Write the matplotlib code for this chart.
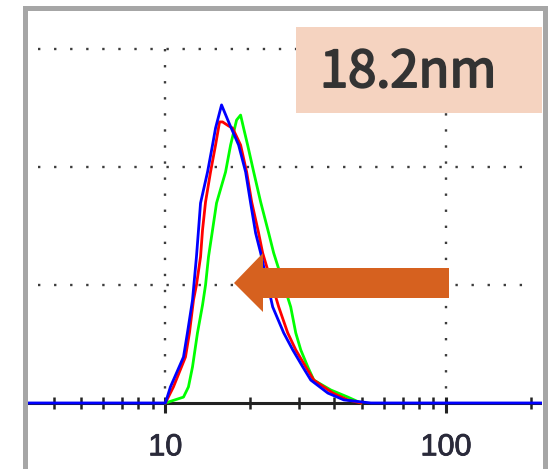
import matplotlib.pyplot as plt
import matplotlib.patheffects as pe
from matplotlib.patches import Rectangle, Polygon

# --- DATA: size distribution (diameter in nm, intensity in %) ---
blue_size = [3.0, 10.0, 10.42, 11.60, 11.98, 12.49, 12.90, 13.12, 13.34, 14.13, 14.72,
             15.09, 15.85, 16.79, 18.23, 19.31, 20.12, 20.96, 21.84, 24.11, 26.39,
             28.42, 30.85, 32.96, 37.90, 43.22, 53.95, 250.0]
blue_pct = [0, 0, 0.68, 1.95, 2.97, 4.36, 6.19, 7.33, 8.47, 9.79, 10.93,
            11.65, 12.63, 11.91, 10.93, 9.79, 8.47, 7.20, 6.36, 4.07, 2.97,
            2.25, 1.53, 0.97, 0.42, 0.13, 0, 0]

red_size = [10.0, 10.68, 11.79, 12.18, 12.59, 12.90, 13.34, 13.56, 13.90, 14.48, 15.09,
            15.59, 15.98, 16.79, 17.35, 18.53, 19.47, 20.29, 21.48, 22.20, 25.33,
            27.27, 29.13, 31.62, 33.78, 39.49, 44.67, 49.70]
red_pct = [0, 0.68, 1.95, 2.97, 4.36, 5.0, 6.19, 7.33, 8.52, 9.79, 10.93,
           11.91, 11.91, 11.74, 11.65, 10.93, 9.79, 8.52, 7.20, 6.36, 4.07,
           2.97, 2.25, 1.53, 0.97, 0.42, 0.13, 0]

green_size = [10.0, 11.60, 12.08, 12.49, 13.01, 13.56, 13.90, 14.24, 14.72, 15.21, 16.38,
              17.07, 17.93, 18.53, 18.99, 19.63, 20.63, 21.84, 23.33, 24.30, 27.95,
              29.13, 30.35, 32.15, 33.78, 38.85, 44.67, 49.70]
green_pct = [0, 0.25, 0.68, 1.53, 2.97, 4.15, 5.0, 6.19, 7.33, 8.47, 9.79,
             10.93, 11.99, 12.20, 11.65, 10.93, 9.79, 8.52, 7.20, 6.36, 4.07,
             2.97, 2.25, 1.53, 0.97, 0.55, 0.25, 0]

grid_pct = [5, 10, 15]
major_ticks = [10, 100]
minor_ticks = [4, 5, 6, 7, 8, 9, 20, 30, 40, 50, 60, 70, 80, 90, 200]
peak_label = "18.2nm"

W, H = 552, 469


def fx(px):
    return px / W


def fy(py):
    return 1 - py / H


fig = plt.figure(figsize=(W / 100, H / 100), dpi=100)
ax = fig.add_axes([fx(27), fy(466), fx(542) - fx(27), fy(11) - fy(466)])
ax.set_xscale("log")
ax.set_xlim(3.214, 219.5)
ax.set_ylim(-2.67, 16.61)

# dotted grid
dot = dict(color="#3c3c3c", lw=1.7, linestyle=(0, (1, 5.8)), zorder=1)
for g in grid_pct:
    ax.plot([3.52, 206], [g, g], **dot)
for m in major_ticks:
    ax.plot([m, m], [grid_pct[-1], 0], **dot)

# x axis line and ticks
ax.plot([3.0, 250], [0, 0], color="#222222", lw=2.2, zorder=2)
ax.plot(minor_ticks, [0] * len(minor_ticks), ls="none", marker="|",
        ms=8, mew=1.8, color="#222222", zorder=2)
ax.plot(major_ticks, [-0.08] * len(major_ticks), ls="none", marker="|",
        ms=11, mew=2.2, color="#222222", zorder=2)
for m in major_ticks:
    ax.text(m, -1.88, str(m), ha="center", va="center", fontsize=22,
            family="Liberation Sans", color="#2a2a3a",
            path_effects=[pe.withStroke(linewidth=0.6, foreground="#2a2a3a")])

# curves
ax.plot(green_size, green_pct, color="#00ff00", lw=2.0, zorder=3)
ax.plot(red_size, red_pct, color="#ff0000", lw=2.0, zorder=4)
ax.plot(blue_size, blue_pct, color="#0000ff", lw=2.0, zorder=5)

ax.axis("off")

# outer frame
fig.patches.append(Rectangle((fx(24.5), fy(471)), fx(544.5) - fx(24.5), fy(8.5) - fy(471),
                             transform=fig.transFigure, fill=False,
                             edgecolor="#a6a6a6", lw=3.6, zorder=10))

# label box
fig.patches.append(Rectangle((fx(296), fy(113)), fx(542) - fx(296), fy(27) - fy(113),
                             transform=fig.transFigure, facecolor="#f5d3c0",
                             edgecolor="none", zorder=6))
fig.text(fx(320), fy(87), peak_label, ha="left", va="baseline", fontsize=36.5,
         family=["Noto Sans CJK JP", "DejaVu Sans"], color="#333333", zorder=7,
         path_effects=[pe.withStroke(linewidth=1.4, foreground="#333333")])

# arrow pointing at the peak
arrow_pts = [(234, 283), (263, 253), (263, 268), (449, 268),
             (449, 298), (263, 298), (263, 312)]
fig.patches.append(Polygon([(fx(x), fy(y)) for x, y in arrow_pts], closed=True,
                           transform=fig.transFigure, facecolor="#d6611f",
                           edgecolor="none", zorder=8))

fig.savefig("out.png", dpi=100)
